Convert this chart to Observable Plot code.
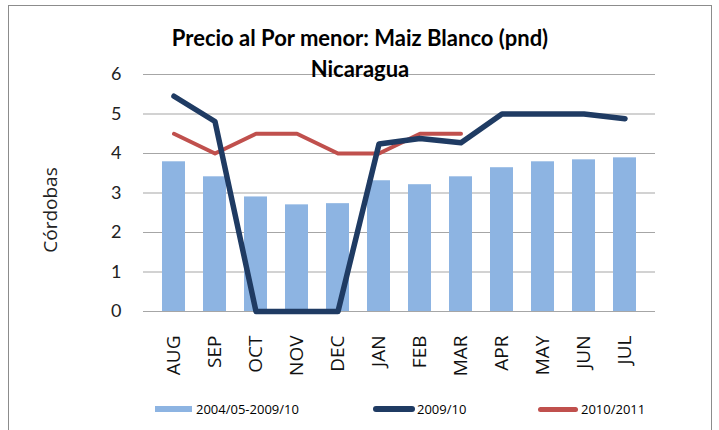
<!DOCTYPE html>
<html><head><meta charset="utf-8">
<script src="https://cdn.jsdelivr.net/npm/d3@7"></script>
<script src="https://cdn.jsdelivr.net/npm/@observablehq/plot@0.6"></script>
<style>
html,body{margin:0;padding:0;background:#fff;}
#wrap{position:relative;width:719px;height:430px;overflow:hidden;}
#frame{position:absolute;left:8px;top:5px;width:704px;height:440px;border:1.5px solid #8c8c8c;box-sizing:border-box;}
.t{position:absolute;font-family:Lato,"Open Sans",sans-serif;font-weight:bold;font-size:22px;line-height:22px;color:#000;white-space:nowrap;transform:translateX(-50%);}
#ylab{position:absolute;left:50px;top:210px;font-family:"Open Sans",sans-serif;font-size:19px;color:#222;transform:translate(-50%,-50%) rotate(-90deg);white-space:nowrap;}
#legend{position:absolute;top:400px;left:0;font-family:"Open Sans",sans-serif;font-size:13px;line-height:18px;color:#000;}
.li{position:absolute;white-space:nowrap;}
.sw{position:absolute;}
svg{position:absolute;left:0;top:0;}
</style></head>
<body><div id="wrap"><div id="frame"></div><div id="chart"></div>
<div class="t" style="left:360px;top:27px;">Precio al Por menor: Maiz Blanco (pnd)</div>
<div class="t" style="left:360px;top:58px;">Nicaragua</div>
<div id="ylab">Córdobas</div>
<div id="legend"></div>
</div>
<script>
const months = ["AUG","SEP","OCT","NOV","DEC","JAN","FEB","MAR","APR","MAY","JUN","JUL"];
const avg0510 = [3.79,3.41,2.90,2.70,2.73,3.31,3.21,3.41,3.64,3.79,3.84,3.89];
const s0910 = [5.45,4.81,0,0,0,4.24,4.38,4.27,5.0,5.0,5.0,4.88];
const s1011 = [4.5,4.0,4.5,4.5,4.0,4.0,4.5,4.5,null,null,null,null];
const yTicks = [0,1,2,3,4,5,6];
const seriesNames = ["2004/05-2009/10","2009/10","2010/2011"];
const colors = ["#8DB4E2","#1F3B63","#C0504D"];

const data = months.map((m,i)=>({month:m, avg:avg0510[i], a:s0910[i], b:s1011[i]}));
const dataB = data.filter(d=>d.b!=null);

const chart = Plot.plot({
  width:719, height:430,
  marginLeft:143, marginRight:64, marginTop:74, marginBottom:119,
  style:{background:"transparent", overflow:"visible"},
  x:{domain:months, padding:0.45, label:null},
  y:{domain:[0,6], label:null},
  marks:[
    Plot.ruleY(yTicks,{stroke:"#a6a6a6", strokeWidth:1.2}),
    Plot.barY(data,{x:"month", y:"avg", fill:colors[0]}),
    Plot.line(dataB,{x:"month", y:"b", stroke:colors[2], strokeWidth:4, strokeLinejoin:"round", strokeLinecap:"round"}),
    Plot.line(data,{x:"month", y:"a", stroke:colors[1], strokeWidth:5.5, strokeLinejoin:"round", strokeLinecap:"round"}),
    Plot.axisY({ticks:yTicks, tickFormat:d3.format("d"), tickSize:0, tickPadding:22, fontSize:18, fontFamily:"Lato, sans-serif", fill:"#222", label:null}),
    Plot.axisX({tickSize:0, tickPadding:24, tickRotate:-90, fontSize:19, fontFamily:"Open Sans, sans-serif", fill:"#111", label:null})
  ]
});
document.getElementById("chart").appendChild(chart);

const lg = document.getElementById("legend");
const items = [
  {x:155, w:37, h:6, tx:196, r:0},
  {x:373, w:42, h:6, tx:417, r:3},
  {x:538, w:40, h:5, tx:581, r:3}
];
items.forEach((it,i)=>{
  const s=document.createElement("div"); s.className="sw";
  s.style.left=it.x+"px"; s.style.top=(9-it.h/2)+"px"; s.style.width=it.w+"px"; s.style.height=it.h+"px";
  s.style.background=colors[i]; s.style.borderRadius=it.r+"px";
  lg.appendChild(s);
  const t=document.createElement("div"); t.className="li"; t.style.left=it.tx+"px"; t.style.top="0px";
  t.textContent=seriesNames[i]; lg.appendChild(t);
});
</script>
</body></html>
